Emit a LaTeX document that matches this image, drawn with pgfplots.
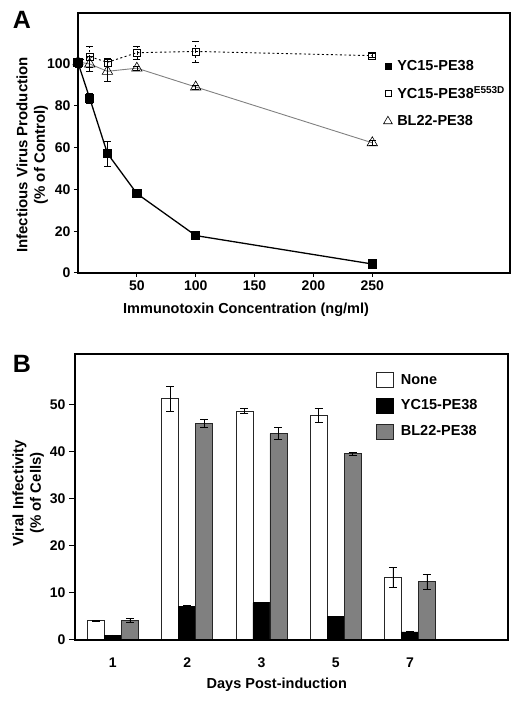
\documentclass[border=0pt]{standalone}
\usepackage{fontspec}
\setmainfont{Liberation Sans}
\usepackage{pgfplots}
\pgfplotsset{compat=1.18}
\definecolor{bargray}{HTML}{808080}
\begin{document}
\begin{tikzpicture}
\path[use as bounding box] (0pt,0pt) rectangle (520pt,704pt);
\pgfplotsset{
  every axis/.append style={
    font=\bfseries\fontsize{14.5}{17}\selectfont,
    /pgf/number format/assume math mode=true,
    scale only axis,
    axis line style={line width=1.1pt},
    tick style={line width=1pt, black},
    tick align=outside,
    major tick length=4pt,
    xtick pos=bottom, ytick pos=left,
    ticklabel style={font=\bfseries\fontsize{14}{16}\selectfont},
  },
}
\node at (22pt,684pt) {\fontsize{25}{25}\selectfont\bfseries A};
\node at (22pt,340pt) {\fontsize{25}{25}\selectfont\bfseries B};
% ---------------- Panel A ----------------
\begin{axis}[
  name=pa,
  at={(78pt,431pt)}, anchor=south west,
  width=432pt, height=260pt,
  xmin=0, xmax=367, ymin=0, ymax=124.4,
  clip=false,
  xtick={50,100,150,200,250}, ytick={0,20,40,60,80,100},
  xlabel={Immunotoxin Concentration (ng/ml)},
  ylabel={Infectious Virus Production\\(\% of Control)},
  xlabel style={at={(axis description cs:0.389,-0.142)}, anchor=center},
  ylabel style={at={(axis description cs:-0.106,0.454)}, anchor=center, align=center,
    font=\bfseries\fontsize{15}{17.5}\selectfont},
  legend style={at={(axis description cs:0.70,0.835)}, anchor=north west, draw=none, fill=none,
    row sep=11pt, column sep=3pt, font=\bfseries\fontsize{14.5}{17}\selectfont},
  legend cell align=left,
  error bars/error bar style={line width=0.6pt, black},
  error bars/error mark options={rotate=90, mark size=3.5pt, line width=0.6pt, black},
]
\addplot[gray, line width=0.9pt, mark=triangle, mark size=6pt, mark options={solid, fill=white, draw=black, line width=0.6pt},
  error bars/.cd, y dir=both, y explicit] coordinates {
  (0,101) +- (0,0)
  (10,100) +- (0,3.5)
  (25,96.5) +- (0,5)
  (50,98) +- (0,1)
  (100,89) +- (0,1)
  (250,62.3) +- (0,1)
};
\addplot[black, line width=0.9pt, dash pattern=on 2pt off 2.5pt, mark=square, mark size=3.5pt, mark options={solid, fill=white, line width=0.6pt},
  error bars/.cd, y dir=both, y explicit] coordinates {
  (0,101) +- (0,0)
  (10,103.5) +- (0,5)
  (25,100.8) +- (0,2)
  (50,105.4) +- (0,3)
  (100,106) +- (0,5)
  (250,104) +- (0,1)
};
\addplot[black, line width=1.3pt, mark=square*, mark size=4pt, mark options={solid},
  error bars/.cd, y dir=both, y explicit] coordinates {
  (0,100.6) +- (0,2)
  (10,83.5) +- (0,2.5)
  (25,57.2) +- (0,6)
  (50,38) +- (0,1.5)
  (100,17.9) +- (0,1)
  (250,4.3) +- (0,0.5)
};
\addlegendimage{only marks, mark=square*, mark size=3pt, black}
\addlegendimage{only marks, mark=square, mark size=3pt, black, mark options={line width=0.6pt}}
\addlegendimage{only marks, mark=triangle, mark size=5pt, black, mark options={line width=0.6pt}}
\legend{,,,YC15-PE38,YC15-PE38\textsuperscript{\fontsize{10}{10}\selectfont E553D},BL22-PE38}
\end{axis}
\draw[black, line width=1.1pt] (pa.south west) rectangle (pa.north east);
% ---------------- Panel B ----------------
\begin{axis}[
  name=pb,
  at={(75pt,64pt)}, anchor=south west,
  width=433pt, height=286pt,
  xmin=-0.51, xmax=5.32, ymin=0, ymax=60.7,
  xtick={0,1,2,3,4}, xticklabels={1,2,3,5,7},
  ytick={0,10,20,30,40,50},
  major x tick style={draw=none},
  major tick length=6pt,
  xticklabel style={yshift=-8pt},
  xlabel={Days Post-induction},
  ylabel={Viral Infectivity\\(\% of Cells)},
  xlabel style={at={(axis description cs:0.466,-0.157)}, anchor=center},
  ylabel style={at={(axis description cs:-0.108,0.514)}, anchor=center, align=center,
    font=\bfseries\fontsize{15}{17.5}\selectfont},
  ybar=0pt, bar width=17pt,
  legend style={at={(axis description cs:0.688,0.945)}, anchor=north west, draw=none, fill=none,
    row sep=10pt, column sep=5pt, font=\bfseries\fontsize{14.5}{17}\selectfont},
  legend cell align=left,
  legend image code/.code={\draw[#1] (0pt,-7.5pt) rectangle (17pt,7.5pt);},
  error bars/error bar style={line width=0.6pt, black},
  error bars/error mark options={rotate=90, mark size=4pt, line width=0.6pt, black},
]
\addplot[fill=white, draw=black!85, line width=0.8pt,
  error bars/.cd, y dir=both, y explicit] coordinates {
  (0,4.1) +- (0,0.1)
  (1,51.2) +- (0,2.7)
  (2,48.6) +- (0,0.5)
  (3,47.6) +- (0,1.5)
  (4,13.3) +- (0,2.2)
};
\addplot[fill=black, draw=black, line width=0.8pt,
  error bars/.cd, y dir=both, y explicit] coordinates {
  (0,1.0) +- (0,0.1)
  (1,7.1) +- (0,0.3)
  (2,7.9) +- (0,0)
  (3,5.0) +- (0,0)
  (4,1.7) +- (0,0.2)
};
\addplot[fill=bargray, draw=black!85, line width=0.8pt,
  error bars/.cd, y dir=both, y explicit] coordinates {
  (0,4.1) +- (0,0.4)
  (1,46.0) +- (0,0.8)
  (2,43.8) +- (0,1.3)
  (3,39.5) +- (0,0.3)
  (4,12.4) +- (0,1.6)
};
\legend{None,YC15-PE38,BL22-PE38}
\end{axis}
\draw[black, line width=1.1pt] (pb.south west) rectangle (pb.north east);
\end{tikzpicture}
\end{document}
